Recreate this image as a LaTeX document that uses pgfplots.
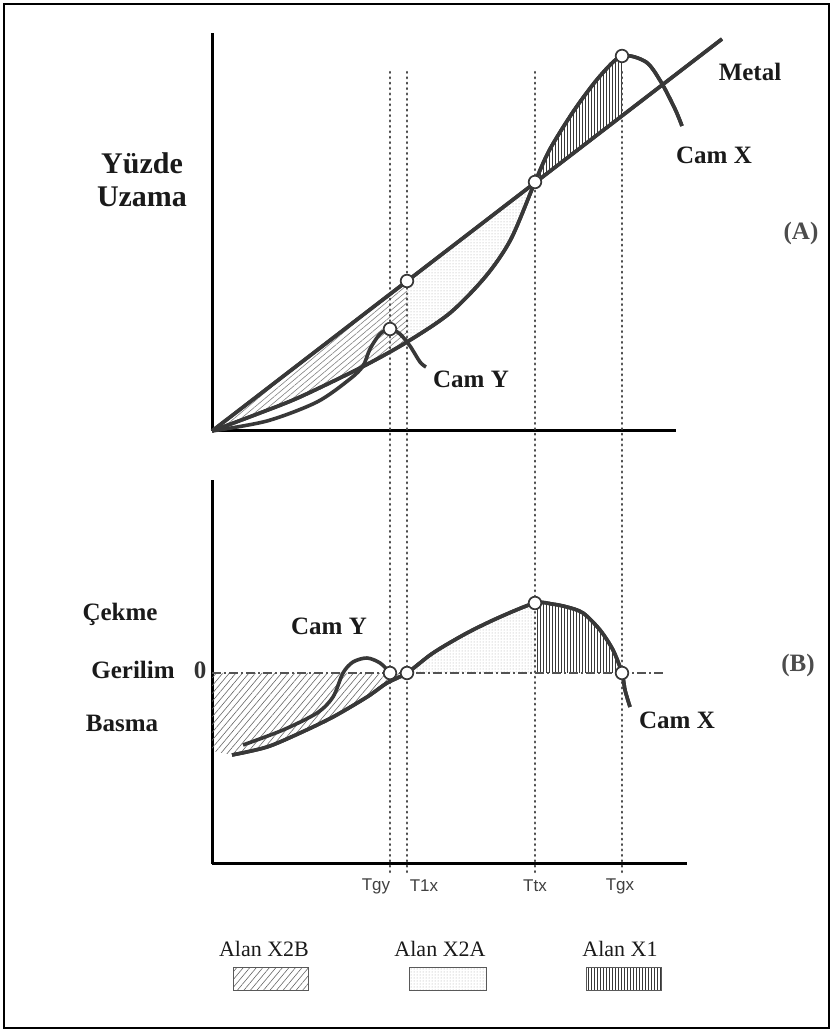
\documentclass[border=0pt]{standalone}
\usepackage{pgfplots}
\pgfplotsset{compat=1.18}
\usepgfplotslibrary{fillbetween}
\usetikzlibrary{patterns.meta}
\usepackage{fontspec}
\setmainfont{Liberation Serif}
\setsansfont{Liberation Sans}
\definecolor{ink}{HTML}{383838}
\definecolor{txt}{HTML}{1A1A1A}
\newcommand\lab{\fontsize{25}{28}\selectfont\bfseries}
\begin{document}
\begin{tikzpicture}[x=1pt,y=1pt]
\path (0,0) rectangle (833,1032);
\draw[line width=1.2pt,black] (4,4) rectangle (829,1028);
% ---------------- Panel A ----------------
\begin{axis}[at={(212pt,601pt)}, anchor=south west, scale only axis,
  width=464pt, height=398pt, xmin=0, xmax=464, ymin=0, ymax=398,
  axis x line=bottom, axis y line=left,
  axis line style={line width=3pt,-,black},
  xtick=\empty, ytick=\empty, clip=false, set layers]
\addplot[name path=metal, ink, line width=3.6pt] coordinates {(0,0) (510,392)};
\addplot[name path=camxa, ink, line width=3.6pt, smooth] coordinates {
 (0,0) (48,18) (88,34) (150,64) (195,89) (238,118) (274,155) (299,192)
 (323,249) (338,282) (363,322) (388,355) (410,375) (434,369) (449,349)
 (463,322) (470,305)};
\addplot[draw=none, pattern={Lines[angle=40,distance=4.5pt,line width=0.6pt]}, pattern color=gray]
  fill between[of=metal and camxa, soft clip={domain=0:195}];
\addplot[draw=none, pattern={Dots[distance=3pt,radius=0.5pt]}, pattern color=gray!70]
  fill between[of=metal and camxa, soft clip={domain=195:323}];
\addplot[draw=none, pattern={Lines[angle=90,distance=3pt,line width=0.9pt]}, pattern color=ink]
  fill between[of=camxa and metal, soft clip={domain=323:410}];
% vertical dotted lines
\addplot[black!70, line width=2.4pt, line cap=round, dash pattern=on 0.8pt off 4.6pt] coordinates {(178,359) (178,-445)};
\addplot[black!70, line width=2.4pt, line cap=round, dash pattern=on 0.8pt off 4.6pt] coordinates {(195,359) (195,-445)};
\addplot[black!70, line width=2.4pt, line cap=round, dash pattern=on 0.8pt off 4.6pt] coordinates {(323,359) (323,-445)};
\addplot[black!70, line width=2.4pt, line cap=round, dash pattern=on 0.8pt off 4.6pt] coordinates {(410,359) (410,-445)};
% redraw curves on top of dots
\addplot[ink, line width=3.6pt] coordinates {(0,0) (510,392)};
\addplot[ink, line width=3.6pt, smooth] coordinates {
 (0,0) (48,18) (88,34) (150,64) (195,89) (238,118) (274,155) (299,192)
 (323,249) (338,282) (363,322) (388,355) (410,375) (434,369) (449,349)
 (463,322) (470,305)};
\addplot[ink, line width=3.6pt, smooth] coordinates {
 (0,0) (55,10) (105,29) (138,52) (151,65) (158,82) (168,97) (178,102)
 (188,97) (198,85) (208,69) (214,64)};
\addplot[only marks, mark=*, mark size=6.3pt, mark options={fill=white, draw=ink, line width=1.7pt}]
  coordinates {(195,150) (323,249) (178,102) (410,375)};
\node[txt, font=\fontsize{30}{33}\selectfont\bfseries, align=center] at (axis cs:-70,251) {Yüzde\\Uzama};
\node[txt, font=\lab] at (axis cs:538,359) {Metal};
\node[txt, font=\lab] at (axis cs:502,276) {Cam X};
\node[txt, font=\lab] at (axis cs:259,52) {Cam Y};
\node[gray!60!black, font=\lab] at (axis cs:589,197) {(A)};
\end{axis}
% ---------------- Panel B ----------------
\begin{axis}[at={(212pt,168pt)}, anchor=south west, scale only axis,
  width=475pt, height=384pt, xmin=0, xmax=475, ymin=-191, ymax=193,
  axis x line=bottom, axis y line=left,
  axis line style={line width=3pt,-,black},
  xtick=\empty, ytick=\empty, clip=false, set layers]
\addplot[name path=zero, gray!65!black, line width=1.6pt, dash pattern=on 9pt off 3pt on 2pt off 3pt]
  coordinates {(0,0) (451,0)};
\addplot[name path=camxb, ink, line width=3.6pt, smooth] coordinates {
 (20,-82) (55,-74) (88,-60) (121,-44) (155,-24) (175,-10) (195,0) (221,20)
 (255,40) (288,56) (323,70) (340,69) (355,66) (371,60) (388,43) (401,23)
 (410,0) (413,-17) (418,-34)};
\addplot[draw=none, pattern={Lines[angle=50,distance=5pt,line width=0.6pt]}, pattern color=gray!80!black]
  fill between[of=zero and camxb, soft clip={domain=20:195}];
\addplot[draw=none, pattern={Lines[angle=50,distance=5pt,line width=0.6pt]}, pattern color=gray!80!black]
  coordinates {(0,0) (20.5,0) (20.5,-82) (0,-78)} -- cycle;
\addplot[draw=none, pattern={Dots[distance=3pt,radius=0.5pt]}, pattern color=gray!70]
  fill between[of=camxb and zero, soft clip={domain=195:323}];
\addplot[draw=none, pattern={Lines[angle=90,distance=3pt,line width=0.9pt]}, pattern color=ink]
  fill between[of=camxb and zero, soft clip={domain=323:410}];
\addplot[gray!65!black, line width=1.6pt, dash pattern=on 9pt off 3pt on 2pt off 3pt]
  coordinates {(0,0) (451,0)};
\addplot[ink, line width=3.6pt, smooth] coordinates {
 (20,-82) (55,-74) (88,-60) (121,-44) (155,-24) (175,-10) (195,0) (221,20)
 (255,40) (288,56) (323,70) (340,69) (355,66) (371,60) (388,43) (401,23)
 (410,0) (413,-17) (418,-34)};
\addplot[ink, line width=3.6pt, smooth] coordinates {
 (31,-72) (71,-57) (105,-40) (121,-24) (131,0) (141,11) (155,15) (168,10)
 (178,0) (181,-7)};
\addplot[only marks, mark=*, mark size=6.3pt, mark options={fill=white, draw=ink, line width=1.7pt}]
  coordinates {(178,0) (195,0) (323,70) (410,0)};
% legend boxes
\addplot[draw=gray!70!black, line width=1pt, pattern={Lines[angle=50,distance=5pt,line width=0.6pt]}, pattern color=gray!80!black]
  coordinates {(21,-295) (96,-295) (96,-318) (21,-318)} -- cycle;
\addplot[draw=gray!70!black, line width=1pt, pattern={Dots[distance=3pt,radius=0.5pt]}, pattern color=gray!70]
  coordinates {(197,-295) (274,-295) (274,-318) (197,-318)} -- cycle;
\addplot[draw=gray!70!black, line width=1pt, pattern={Lines[angle=90,distance=3pt,line width=0.9pt]}, pattern color=ink]
  coordinates {(374,-295) (449,-295) (449,-318) (374,-318)} -- cycle;
\node[txt, font=\fontsize{22}{24}\selectfont] at (axis cs:52,-276) {Alan X2B};
\node[txt, font=\fontsize{22}{24}\selectfont] at (axis cs:228,-276) {Alan X2A};
\node[txt, font=\fontsize{22}{24}\selectfont] at (axis cs:408,-276) {Alan X1};
\node[txt, font=\lab] at (axis cs:-92,59) {Çekme};
\node[txt, font=\lab] at (axis cs:117,47) {Cam Y};
\node[txt, font=\lab] at (axis cs:-79,3) {Gerilim};
\node[gray!40!black, font=\lab] at (axis cs:-12,3) {0};
\node[txt, font=\lab] at (axis cs:-90,-50) {Basma};
\node[gray!60!black, font=\lab] at (axis cs:586,8) {(B)};
\node[txt, font=\lab] at (axis cs:465,-47) {Cam X};
\node[gray!50!black, font=\sffamily\fontsize{17}{19}\selectfont] at (axis cs:164,-213) {Tgy};
\node[gray!50!black, font=\sffamily\fontsize{17}{19}\selectfont] at (axis cs:212,-213) {T1x};
\node[gray!50!black, font=\sffamily\fontsize{17}{19}\selectfont] at (axis cs:323,-213) {Ttx};
\node[gray!50!black, font=\sffamily\fontsize{17}{19}\selectfont] at (axis cs:408,-213) {Tgx};
\end{axis}
\end{tikzpicture}
\end{document}
